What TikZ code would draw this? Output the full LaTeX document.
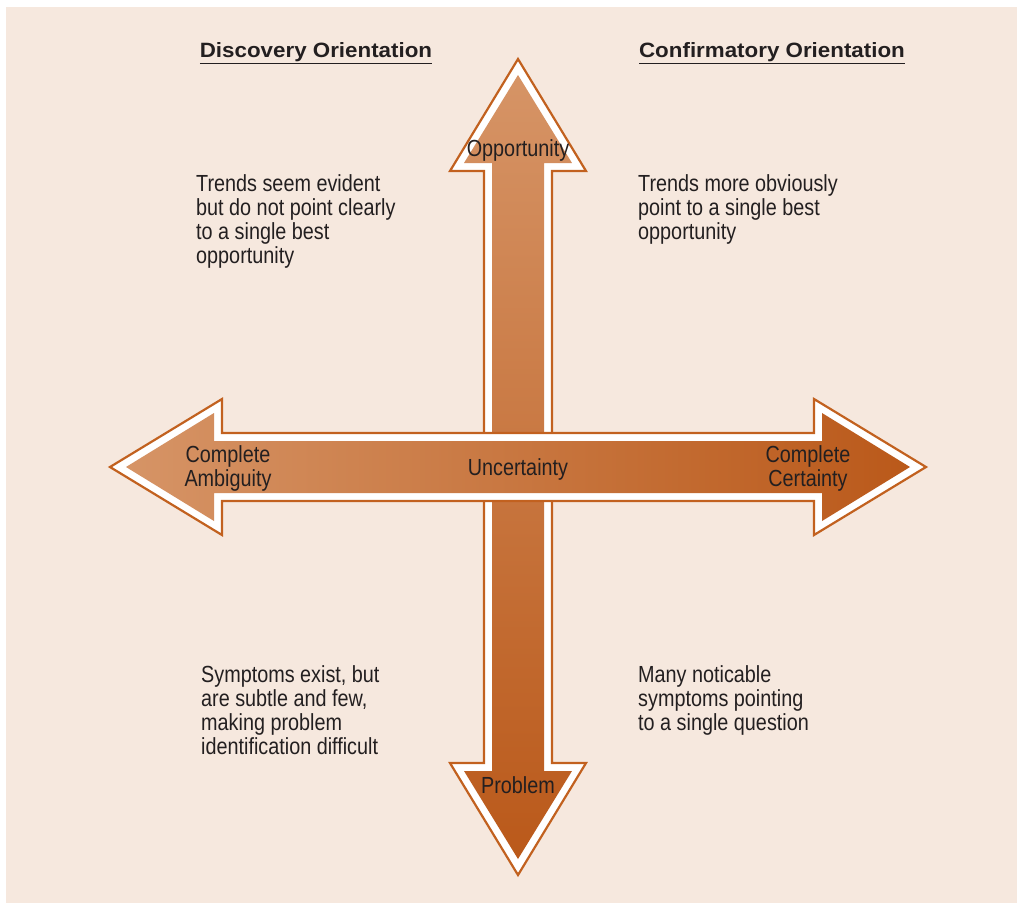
\documentclass[tikz,border=0pt]{standalone}
\usepackage{fontspec}
\setmainfont{Liberation Sans}[FakeStretch=0.85]
\newfontfamily\headfont{Liberation Sans Bold}[FakeStretch=1.08]
\usepackage{tikz}
\definecolor{peach}{RGB}{246,232,222}
\definecolor{rim}{RGB}{194,97,31}
\definecolor{light}{RGB}{214,148,102}
\definecolor{dark}{RGB}{186,89,26}
\definecolor{ink}{RGB}{35,31,32}
\tikzset{every picture/.style={x=1pt,y=-1pt},
  shell/.style={fill=white, draw=rim, line width=2.2pt, line join=miter},
  heading/.style={anchor=base, inner sep=0pt, text=ink, font=\headfont\fontsize{20.7}{24}\selectfont},
  note/.style={anchor=north west, inner sep=0pt, align=left, text=ink, font=\fontsize{23.3}{24}\selectfont},
  tag/.style={inner sep=0pt, align=center, text=ink, font=\fontsize{23.3}{24}\selectfont}}

\begin{document}
\begin{tikzpicture}
        \useasboundingbox (0,0) rectangle (1017,903);
        \fill[white] (0,0) rectangle (1017,903);
        \fill[peach] (6,7) rectangle (1017,903);

        % Vertical arrow
        \draw[shell] (518,59) -- (586,171) -- (552,171) -- (552,763) -- (586,763) -- (518,875)
          -- (450,763) -- (484,763) -- (484,171) -- (450,171) -- cycle;
        \shade[top color=light, bottom color=dark] (518,75) -- (572,163) -- (544,163) -- (544,771)
          -- (572,771) -- (518,859) -- (464,771) -- (492,771) -- (492,163) -- (464,163) -- cycle;

        % Horizontal arrow
        \draw[shell] (110,467) -- (222,399) -- (222,433) -- (814,433) -- (814,399) -- (926,467)
          -- (814,535) -- (814,501) -- (222,501) -- (222,535) -- cycle;
        \shade[left color=light, right color=dark] (126,467) -- (214,413) -- (214,441) -- (822,441)
          -- (822,413) -- (910,467) -- (822,521) -- (822,493) -- (214,493) -- (214,521) -- cycle;

        % Labels on the arrows
        \node[tag, anchor=base] (opp) at (518,156) {Opportunity};
        \node[tag, anchor=base] (prob) at (518,793) {Problem};
        \node[tag, anchor=base] (unc) at (518,475) {Uncertainty};
        \node[tag] (amb) at (228,468) {Complete\\Ambiguity};
        \node[tag] (cert) at (808,468) {Complete\\Certainty};

        % Headings
        \node[heading] (disc) at (316,57) {\underline{Discovery Orientation}};
        \node[heading] (conf) at (772,57) {\underline{Confirmatory Orientation}};

        % Quadrant notes
        \node[note] (tl) at (196,174) {Trends seem evident\\but do not point clearly\\to a single best\\opportunity};
        \node[note] (tr) at (638,174) {Trends more obviously\\point to a single best\\opportunity};
        \node[note] (bl) at (201,665) {Symptoms exist, but\\are subtle and few,\\making problem\\identification difficult};
        \node[note] (br) at (638,665) {Many noticable\\symptoms pointing\\to a single question};
\end{tikzpicture}
\end{document}
